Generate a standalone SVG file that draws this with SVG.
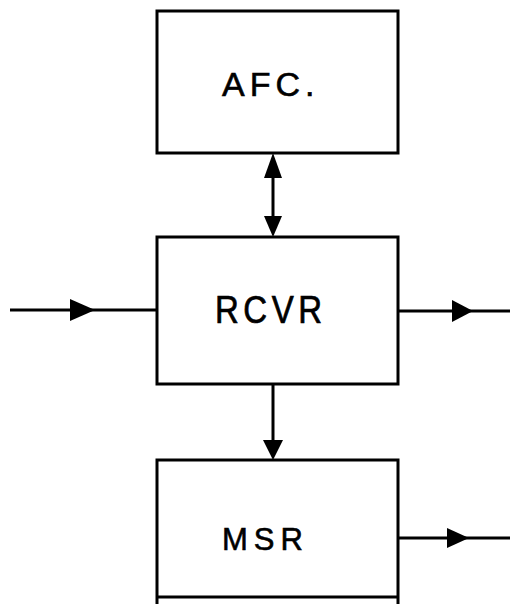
<svg xmlns="http://www.w3.org/2000/svg" width="510" height="609" viewBox="0 0 510 609">
<style>
.box{fill:none;stroke:#000;stroke-width:3}
.ln{stroke:#000;stroke-width:3;fill:none}
.head{fill:#000}
.lbl{font-family:"Liberation Sans",Arial,sans-serif;fill:#000;stroke:#000;stroke-width:0.6;text-anchor:start}
</style>
<rect width="510" height="609" fill="#fff"/>
<g id="afc">
<rect class="box" x="157" y="11" width="241" height="142"/>
<text class="lbl" x="222" y="96" font-size="34" letter-spacing="5">AFC.</text>
</g>
<g id="rcvr">
<rect class="box" x="157" y="237" width="241" height="147"/>
<text class="lbl" transform="translate(215,323) scale(1,1.18)" x="0" y="0" font-size="33" letter-spacing="4.5">RCVR</text>
</g>
<g id="msr">
<path class="box" d="M157,604 V460 H398 V604 M157,597 H398"/>
<text class="lbl" x="222" y="550" font-size="31" letter-spacing="6">MSR</text>
</g>
<g id="connectors">
<line class="ln" x1="273" y1="160" x2="273" y2="230"/>
<polygon class="head" points="273,153 264,178 282,178"/>
<polygon class="head" points="273,237 264,216 282,216"/>
<line class="ln" x1="10" y1="310" x2="157" y2="310"/>
<polygon class="head" points="95,310 70,299 70,321"/>
<line class="ln" x1="398" y1="311" x2="510" y2="311"/>
<polygon class="head" points="473,311 452,300 452,322"/>
<line class="ln" x1="273" y1="384" x2="273" y2="445"/>
<polygon class="head" points="273,460 263,440 283,440"/>
<line class="ln" x1="398" y1="538" x2="510" y2="538"/>
<polygon class="head" points="469,538 447,528 447,548"/>
</g>
</svg>
